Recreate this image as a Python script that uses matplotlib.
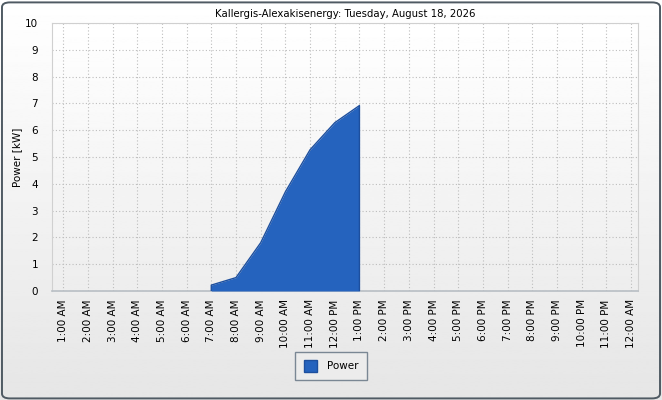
import matplotlib
matplotlib.use('Agg')
import matplotlib.pyplot as plt
import numpy as np
from matplotlib.patches import FancyBboxPatch

# chart data
hour_labels = ["1:00 AM", "2:00 AM", "3:00 AM", "4:00 AM", "5:00 AM", "6:00 AM",
               "7:00 AM", "8:00 AM", "9:00 AM", "10:00 AM", "11:00 AM", "12:00 PM",
               "1:00 PM", "2:00 PM", "3:00 PM", "4:00 PM", "5:00 PM", "6:00 PM",
               "7:00 PM", "8:00 PM", "9:00 PM", "10:00 PM", "11:00 PM", "12:00 AM"]
power_hours = ["7:00 AM", "8:00 AM", "9:00 AM", "10:00 AM", "11:00 AM", "12:00 PM", "1:00 PM"]
power_kw = [0.22, 0.5, 1.8, 3.7, 5.27, 6.28, 6.92]
title = "Kallergis-Alexakisenergy: Tuesday, August 18, 2026"

fill_col = '#2563be'
edge_col = '#1d4f9e'

fig = plt.figure(figsize=(6.62, 4.0), dpi=100)

# figure background gradient with rounded frame
bg = fig.add_axes([0, 0, 1, 1], zorder=-10)
bg.set_axis_off()
grad = np.linspace(1.0, 0.90, 256).reshape(-1, 1)
bg.imshow(grad, cmap='gray', vmin=0, vmax=1, aspect='auto', extent=[0, 1, 0, 1])
bg.set_xlim(0, 1)
bg.set_ylim(0, 1)
frame = FancyBboxPatch((0.003, 0.004), 0.994, 0.99, boxstyle="round,pad=0,rounding_size=0.012",
                       transform=bg.transAxes, facecolor='none', edgecolor='#4f5a63', linewidth=1.4)
bg.add_patch(frame)

ax = fig.add_axes([52 / 662, 109 / 400, 586 / 662, 268 / 400])
ax.set_facecolor('none')
# plot area gradient
ax.imshow(np.linspace(1.0, 0.93, 256).reshape(-1, 1), cmap='gray', vmin=0, vmax=1,
          aspect='auto', extent=[-0.45, 23.28, 0, 10], zorder=0)

x_pos = [hour_labels.index(h) for h in power_hours]
ax.fill_between(x_pos, 0, power_kw, color=fill_col, zorder=3, linewidth=0)
ax.plot([x_pos[0]] + x_pos + [x_pos[-1]], [0] + power_kw + [0], color=edge_col, lw=1.0, zorder=4)

ax.set_xlim(-0.45, 23.28)
ax.set_ylim(0, 10)
ax.set_xticks(range(len(hour_labels)))
ax.set_xticklabels(hour_labels, rotation=90, fontsize=7.5)
ax.set_yticks(range(0, 11))
ax.tick_params(axis='both', length=0, labelsize=7.5, pad=6)
ax.tick_params(axis='y', pad=10)
ax.grid(True, color='#bdbdbd', linestyle=(0, (1, 2)), linewidth=0.8, zorder=1)
for side in ['top', 'right', 'left']:
    ax.spines[side].set_color('#d0d0d0')
ax.spines['bottom'].set_color('#b8bec4')
ax.spines['bottom'].set_linewidth(1.2)
ax.set_ylabel('Power [kW]', fontsize=7.5, labelpad=2)
ax.set_title(title, fontsize=7.3, pad=4)

handle = plt.Rectangle((0, 0), 1, 1, facecolor=fill_col, edgecolor=edge_col)
leg = fig.legend([handle], ['Power'], loc='center', bbox_to_anchor=(331 / 662, 1 - 366 / 400),
                 fontsize=7.5, fancybox=False, framealpha=1, edgecolor='#7a8794',
                 handlelength=1.3, handleheight=1.3, borderpad=0.8, handletextpad=0.9)
leg.get_frame().set_facecolor('#ececec')

fig.savefig('out.png', dpi=100)
